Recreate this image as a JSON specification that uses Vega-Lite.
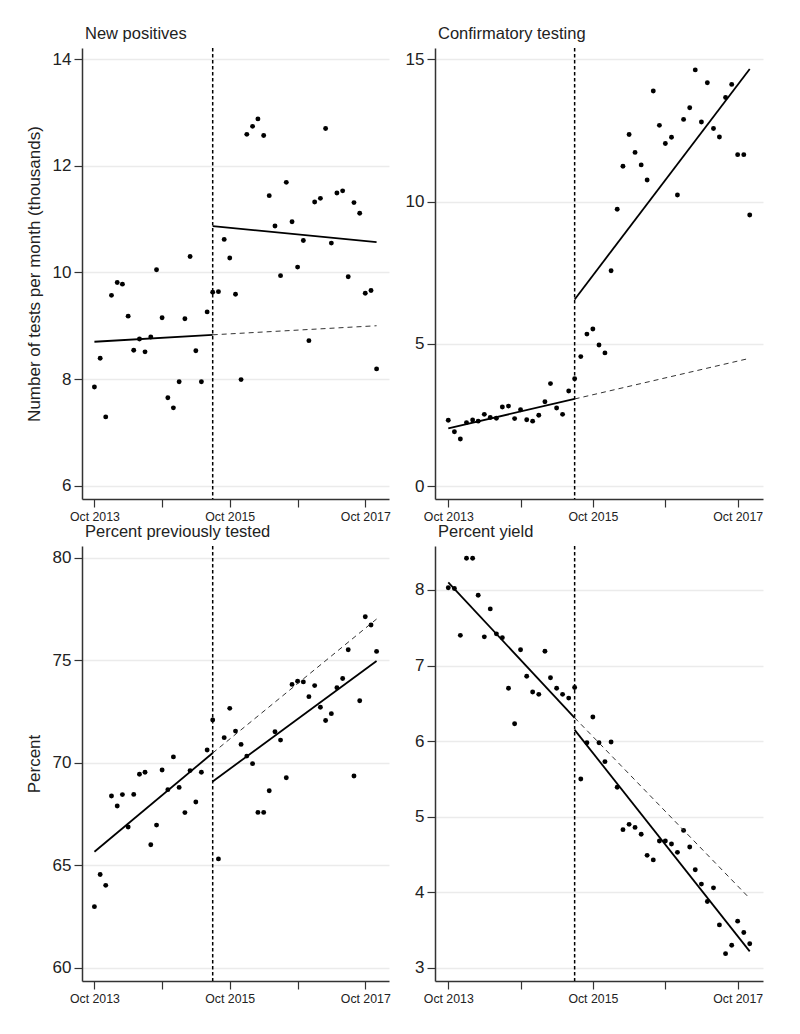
{
  "$schema": "https://vega.github.io/schema/vega-lite/v6.json",
  "padding": {"left": 25, "top": 25, "right": 5, "bottom": 5},
  "background": "white",
  "bounds": "flush",
  "columns": 2,
  "align": "each",
  "spacing": {"row": 47, "column": 46},
  "datasets": {
    "pts": [
      {"month": "2013-10-01", "pos": 7.85, "conf": 2.31, "prev": 62.98, "yld": 8.03},
      {"month": "2013-11-01", "pos": 8.39, "conf": 1.91, "prev": 64.55, "yld": 8.02},
      {"month": "2013-12-01", "pos": 7.29, "conf": 1.65, "prev": 64.02, "yld": 7.40},
      {"month": "2014-01-01", "pos": 9.57, "conf": 2.23, "prev": 68.38, "yld": 8.42},
      {"month": "2014-02-01", "pos": 9.81, "conf": 2.32, "prev": 67.89, "yld": 8.42},
      {"month": "2014-03-01", "pos": 9.78, "conf": 2.28, "prev": 68.45, "yld": 7.93},
      {"month": "2014-04-01", "pos": 9.18, "conf": 2.52, "prev": 66.87, "yld": 7.38},
      {"month": "2014-05-01", "pos": 8.54, "conf": 2.41, "prev": 68.46, "yld": 7.75},
      {"month": "2014-06-01", "pos": 8.75, "conf": 2.38, "prev": 69.44, "yld": 7.42},
      {"month": "2014-07-01", "pos": 8.51, "conf": 2.78, "prev": 69.54, "yld": 7.37},
      {"month": "2014-08-01", "pos": 8.79, "conf": 2.81, "prev": 66.00, "yld": 6.70},
      {"month": "2014-09-01", "pos": 10.05, "conf": 2.37, "prev": 66.96, "yld": 6.23},
      {"month": "2014-10-01", "pos": 9.15, "conf": 2.68, "prev": 69.65, "yld": 7.21},
      {"month": "2014-11-01", "pos": 7.65, "conf": 2.33, "prev": 68.69, "yld": 6.86},
      {"month": "2014-12-01", "pos": 7.46, "conf": 2.28, "prev": 70.29, "yld": 6.65},
      {"month": "2015-01-01", "pos": 7.95, "conf": 2.49, "prev": 68.80, "yld": 6.62},
      {"month": "2015-02-01", "pos": 9.13, "conf": 2.96, "prev": 67.57, "yld": 7.19},
      {"month": "2015-03-01", "pos": 10.30, "conf": 3.60, "prev": 69.62, "yld": 6.84},
      {"month": "2015-04-01", "pos": 8.53, "conf": 2.74, "prev": 68.09, "yld": 6.70},
      {"month": "2015-05-01", "pos": 7.95, "conf": 2.52, "prev": 69.54, "yld": 6.62},
      {"month": "2015-06-01", "pos": 9.26, "conf": 3.34, "prev": 70.63, "yld": 6.57},
      {"month": "2015-07-01", "pos": 9.63, "conf": 3.77, "prev": 72.09, "yld": 6.71},
      {"month": "2015-08-01", "pos": 9.64, "conf": 4.55, "prev": 65.31, "yld": 5.50},
      {"month": "2015-09-01", "pos": 10.62, "conf": 5.34, "prev": 71.23, "yld": 5.98},
      {"month": "2015-10-01", "pos": 10.27, "conf": 5.52, "prev": 72.66, "yld": 6.32},
      {"month": "2015-11-01", "pos": 9.59, "conf": 4.96, "prev": 71.55, "yld": 5.98},
      {"month": "2015-12-01", "pos": 7.99, "conf": 4.68, "prev": 70.90, "yld": 5.73},
      {"month": "2016-01-01", "pos": 12.59, "conf": 7.57, "prev": 70.33, "yld": 5.99},
      {"month": "2016-02-01", "pos": 12.74, "conf": 9.73, "prev": 69.96, "yld": 5.39},
      {"month": "2016-03-01", "pos": 12.88, "conf": 11.24, "prev": 67.58, "yld": 4.83},
      {"month": "2016-04-01", "pos": 12.57, "conf": 12.36, "prev": 67.58, "yld": 4.90},
      {"month": "2016-05-01", "pos": 11.44, "conf": 11.73, "prev": 68.64, "yld": 4.86},
      {"month": "2016-06-01", "pos": 10.87, "conf": 11.29, "prev": 71.52, "yld": 4.77},
      {"month": "2016-07-01", "pos": 9.94, "conf": 10.76, "prev": 71.11, "yld": 4.49},
      {"month": "2016-08-01", "pos": 11.69, "conf": 13.89, "prev": 69.27, "yld": 4.43},
      {"month": "2016-09-01", "pos": 10.95, "conf": 12.68, "prev": 73.83, "yld": 4.68},
      {"month": "2016-10-01", "pos": 10.10, "conf": 12.04, "prev": 73.98, "yld": 4.68},
      {"month": "2016-11-01", "pos": 10.60, "conf": 12.26, "prev": 73.95, "yld": 4.64},
      {"month": "2016-12-01", "pos": 8.72, "conf": 10.23, "prev": 73.23, "yld": 4.53},
      {"month": "2017-01-01", "pos": 11.32, "conf": 12.89, "prev": 73.77, "yld": 4.82},
      {"month": "2017-02-01", "pos": 11.39, "conf": 13.30, "prev": 72.71, "yld": 4.60},
      {"month": "2017-03-01", "pos": 12.70, "conf": 14.63, "prev": 72.07, "yld": 4.30},
      {"month": "2017-04-01", "pos": 10.55, "conf": 12.80, "prev": 72.40, "yld": 4.11},
      {"month": "2017-05-01", "pos": 11.49, "conf": 14.18, "prev": 73.67, "yld": 3.88},
      {"month": "2017-06-01", "pos": 11.53, "conf": 12.57, "prev": 74.12, "yld": 4.06},
      {"month": "2017-07-01", "pos": 9.92, "conf": 12.27, "prev": 75.52, "yld": 3.57},
      {"month": "2017-08-01", "pos": 11.31, "conf": 13.66, "prev": 69.36, "yld": 3.19},
      {"month": "2017-09-01", "pos": 11.11, "conf": 14.12, "prev": 73.03, "yld": 3.30},
      {"month": "2017-10-01", "pos": 9.61, "conf": 11.65, "prev": 77.13, "yld": 3.62},
      {"month": "2017-11-01", "pos": 9.66, "conf": 11.65, "prev": 76.73, "yld": 3.47},
      {"month": "2017-12-01", "pos": 8.19, "conf": 9.53, "prev": 75.44, "yld": 3.32}
    ],
    "fits": [
      {"seg": "pre", "month": "2013-10-01", "pos": 8.70},
      {"seg": "pre", "month": "2015-07-01", "pos": 8.83},
      {"seg": "cf", "month": "2015-07-01", "pos": 8.83},
      {"seg": "cf", "month": "2017-12-01", "pos": 9.00},
      {"seg": "post", "month": "2015-07-01", "pos": 10.87},
      {"seg": "post", "month": "2017-12-01", "pos": 10.57},
      {"seg": "pre", "month": "2013-10-01", "conf": 2.03},
      {"seg": "pre", "month": "2015-07-01", "conf": 3.06},
      {"seg": "cf", "month": "2015-07-01", "conf": 3.06},
      {"seg": "cf", "month": "2017-12-01", "conf": 4.49},
      {"seg": "post", "month": "2015-07-01", "conf": 6.56},
      {"seg": "post", "month": "2017-12-01", "conf": 14.66},
      {"seg": "pre", "month": "2013-10-01", "prev": 65.66},
      {"seg": "pre", "month": "2015-07-01", "prev": 70.48},
      {"seg": "cf", "month": "2015-07-01", "prev": 70.48},
      {"seg": "cf", "month": "2017-12-01", "prev": 77.02},
      {"seg": "post", "month": "2015-07-01", "prev": 69.09},
      {"seg": "post", "month": "2017-12-01", "prev": 74.97},
      {"seg": "pre", "month": "2013-10-01", "yld": 8.10},
      {"seg": "pre", "month": "2015-07-01", "yld": 6.31},
      {"seg": "cf", "month": "2015-07-01", "yld": 6.31},
      {"seg": "cf", "month": "2017-12-01", "yld": 3.92},
      {"seg": "post", "month": "2015-07-01", "yld": 6.15},
      {"seg": "post", "month": "2017-12-01", "yld": 3.22}
    ],
    "cut": [{"month": "2015-07-01"}]
  },
  "concat": [
    {
      "width": 307, "height": 451,
      "title": {"text": "New positives"},
      "layer": [
        {"data": {"name": "pts"}, "mark": {"type": "circle", "size": 24, "color": "black", "opacity": 1},
         "encoding": {
           "x": {"field": "month", "type": "temporal", "scale": {"type": "utc", "domain": [{"year": 2013, "month": 7, "date": 26, "utc": true}, {"year": 2018, "month": 2, "date": 6, "utc": true}]},
                 "axis": {"title": null, "values": [{"year": 2013, "month": 10, "date": 1, "utc": true}, {"year": 2014, "month": 10, "date": 1, "utc": true}, {"year": 2015, "month": 10, "date": 1, "utc": true}, {"year": 2016, "month": 10, "date": 1, "utc": true}, {"year": 2017, "month": 10, "date": 1, "utc": true}], "labelExpr": "utcyear(datum.value) % 2 == 1 ? utcFormat(datum.value, '%b %Y') : ''"}},
           "y": {"field": "pos", "type": "quantitative", "scale": {"domain": [5.75, 14.21], "nice": false, "zero": false}, "axis": {"values": [6, 8, 10, 12, 14], "format": "d", "title": "Number of tests per month (thousands)"}}
         }},
        {"data": {"name": "fits"}, "transform": [{"filter": "isValid(datum.pos) && datum.seg != 'cf'"}],
         "mark": {"type": "line", "color": "black", "strokeWidth": 1.8},
         "encoding": {"x": {"field": "month", "type": "temporal"}, "y": {"field": "pos", "type": "quantitative"}, "detail": {"field": "seg"}}},
        {"data": {"name": "fits"}, "transform": [{"filter": "isValid(datum.pos) && datum.seg == 'cf'"}],
         "mark": {"type": "line", "color": "#333333", "strokeWidth": 1, "strokeDash": [5, 4]},
         "encoding": {"x": {"field": "month", "type": "temporal"}, "y": {"field": "pos", "type": "quantitative"}}},
        {"data": {"name": "cut"}, "mark": {"type": "rule", "color": "black", "strokeWidth": 1.5, "strokeDash": [3.5, 2.5]},
         "encoding": {"x": {"field": "month", "type": "temporal"}}}
      ]
    },
    {
      "width": 328, "height": 451,
      "title": {"text": "Confirmatory testing"},
      "layer": [
        {"data": {"name": "pts"}, "mark": {"type": "circle", "size": 24, "color": "black", "opacity": 1},
         "encoding": {
           "x": {"field": "month", "type": "temporal", "scale": {"type": "utc", "domain": [{"year": 2013, "month": 7, "date": 26, "utc": true}, {"year": 2018, "month": 2, "date": 6, "utc": true}]},
                 "axis": {"title": null, "values": [{"year": 2013, "month": 10, "date": 1, "utc": true}, {"year": 2014, "month": 10, "date": 1, "utc": true}, {"year": 2015, "month": 10, "date": 1, "utc": true}, {"year": 2016, "month": 10, "date": 1, "utc": true}, {"year": 2017, "month": 10, "date": 1, "utc": true}], "labelExpr": "utcyear(datum.value) % 2 == 1 ? utcFormat(datum.value, '%b %Y') : ''"}},
           "y": {"field": "conf", "type": "quantitative", "scale": {"domain": [-0.457, 15.40], "nice": false, "zero": false}, "axis": {"values": [0, 5, 10, 15], "format": "d", "title": null}}
         }},
        {"data": {"name": "fits"}, "transform": [{"filter": "isValid(datum.conf) && datum.seg != 'cf'"}],
         "mark": {"type": "line", "color": "black", "strokeWidth": 1.8},
         "encoding": {"x": {"field": "month", "type": "temporal"}, "y": {"field": "conf", "type": "quantitative"}, "detail": {"field": "seg"}}},
        {"data": {"name": "fits"}, "transform": [{"filter": "isValid(datum.conf) && datum.seg == 'cf'"}],
         "mark": {"type": "line", "color": "#333333", "strokeWidth": 1, "strokeDash": [5, 4]},
         "encoding": {"x": {"field": "month", "type": "temporal"}, "y": {"field": "conf", "type": "quantitative"}}},
        {"data": {"name": "cut"}, "mark": {"type": "rule", "color": "black", "strokeWidth": 1.5, "strokeDash": [3.5, 2.5]},
         "encoding": {"x": {"field": "month", "type": "temporal"}}}
      ]
    },
    {
      "width": 307, "height": 435,
      "title": {"text": "Percent previously tested"},
      "layer": [
        {"data": {"name": "pts"}, "mark": {"type": "circle", "size": 24, "color": "black", "opacity": 1},
         "encoding": {
           "x": {"field": "month", "type": "temporal", "scale": {"type": "utc", "domain": [{"year": 2013, "month": 7, "date": 26, "utc": true}, {"year": 2018, "month": 2, "date": 6, "utc": true}]},
                 "axis": {"title": null, "values": [{"year": 2013, "month": 10, "date": 1, "utc": true}, {"year": 2014, "month": 10, "date": 1, "utc": true}, {"year": 2015, "month": 10, "date": 1, "utc": true}, {"year": 2016, "month": 10, "date": 1, "utc": true}, {"year": 2017, "month": 10, "date": 1, "utc": true}], "labelExpr": "utcyear(datum.value) % 2 == 1 ? utcFormat(datum.value, '%b %Y') : ''"}},
           "y": {"field": "prev", "type": "quantitative", "scale": {"domain": [59.35, 80.585], "nice": false, "zero": false}, "axis": {"values": [60, 65, 70, 75, 80], "format": "d", "title": "Percent"}}
         }},
        {"data": {"name": "fits"}, "transform": [{"filter": "isValid(datum.prev) && datum.seg != 'cf'"}],
         "mark": {"type": "line", "color": "black", "strokeWidth": 1.8},
         "encoding": {"x": {"field": "month", "type": "temporal"}, "y": {"field": "prev", "type": "quantitative"}, "detail": {"field": "seg"}}},
        {"data": {"name": "fits"}, "transform": [{"filter": "isValid(datum.prev) && datum.seg == 'cf'"}],
         "mark": {"type": "line", "color": "#333333", "strokeWidth": 1, "strokeDash": [5, 4]},
         "encoding": {"x": {"field": "month", "type": "temporal"}, "y": {"field": "prev", "type": "quantitative"}}},
        {"data": {"name": "cut"}, "mark": {"type": "rule", "color": "black", "strokeWidth": 1.5, "strokeDash": [3.5, 2.5]},
         "encoding": {"x": {"field": "month", "type": "temporal"}}}
      ]
    },
    {
      "width": 328, "height": 435,
      "title": {"text": "Percent yield"},
      "layer": [
        {"data": {"name": "pts"}, "mark": {"type": "circle", "size": 24, "color": "black", "opacity": 1},
         "encoding": {
           "x": {"field": "month", "type": "temporal", "scale": {"type": "utc", "domain": [{"year": 2013, "month": 7, "date": 26, "utc": true}, {"year": 2018, "month": 2, "date": 6, "utc": true}]},
                 "axis": {"title": null, "values": [{"year": 2013, "month": 10, "date": 1, "utc": true}, {"year": 2014, "month": 10, "date": 1, "utc": true}, {"year": 2015, "month": 10, "date": 1, "utc": true}, {"year": 2016, "month": 10, "date": 1, "utc": true}, {"year": 2017, "month": 10, "date": 1, "utc": true}], "labelExpr": "utcyear(datum.value) % 2 == 1 ? utcFormat(datum.value, '%b %Y') : ''"}},
           "y": {"field": "yld", "type": "quantitative", "scale": {"domain": [2.828, 8.582], "nice": false, "zero": false}, "axis": {"values": [3, 4, 5, 6, 7, 8], "format": "d", "title": null}}
         }},
        {"data": {"name": "fits"}, "transform": [{"filter": "isValid(datum.yld) && datum.seg != 'cf'"}],
         "mark": {"type": "line", "color": "black", "strokeWidth": 1.8},
         "encoding": {"x": {"field": "month", "type": "temporal"}, "y": {"field": "yld", "type": "quantitative"}, "detail": {"field": "seg"}}},
        {"data": {"name": "fits"}, "transform": [{"filter": "isValid(datum.yld) && datum.seg == 'cf'"}],
         "mark": {"type": "line", "color": "#333333", "strokeWidth": 1, "strokeDash": [5, 4]},
         "encoding": {"x": {"field": "month", "type": "temporal"}, "y": {"field": "yld", "type": "quantitative"}}},
        {"data": {"name": "cut"}, "mark": {"type": "rule", "color": "black", "strokeWidth": 1.5, "strokeDash": [3.5, 2.5]},
         "encoding": {"x": {"field": "month", "type": "temporal"}}}
      ]
    }
  ],
  "config": {
    "font": "Liberation Sans",
    "view": {"stroke": null},
    "axis": {
      "domainColor": "#333333", "domainWidth": 1.5,
      "tickColor": "#333333", "tickWidth": 1.2, "tickSize": 8,
      "labelColor": "#222222", "titleColor": "#222222",
      "labelFont": "Liberation Sans", "titleFont": "Liberation Sans",
      "labelOverlap": false, "labelFlush": false
    },
    "axisX": {"grid": false, "labelFontSize": 12.3, "labelPadding": 3},
    "axisY": {"grid": true, "gridColor": "#ebebeb", "gridWidth": 1.5, "labelFontSize": 17, "labelPadding": 3,
              "titleFontSize": 17, "titleFontWeight": "normal", "titlePadding": 9, "minExtent": 30, "maxExtent": 30},
    "title": {"anchor": "start", "frame": "group", "fontSize": 16.5, "fontWeight": "normal", "offset": 5, "baseline": "bottom", "dx": 3, "color": "#222222", "font": "Liberation Sans"}
  }
}
